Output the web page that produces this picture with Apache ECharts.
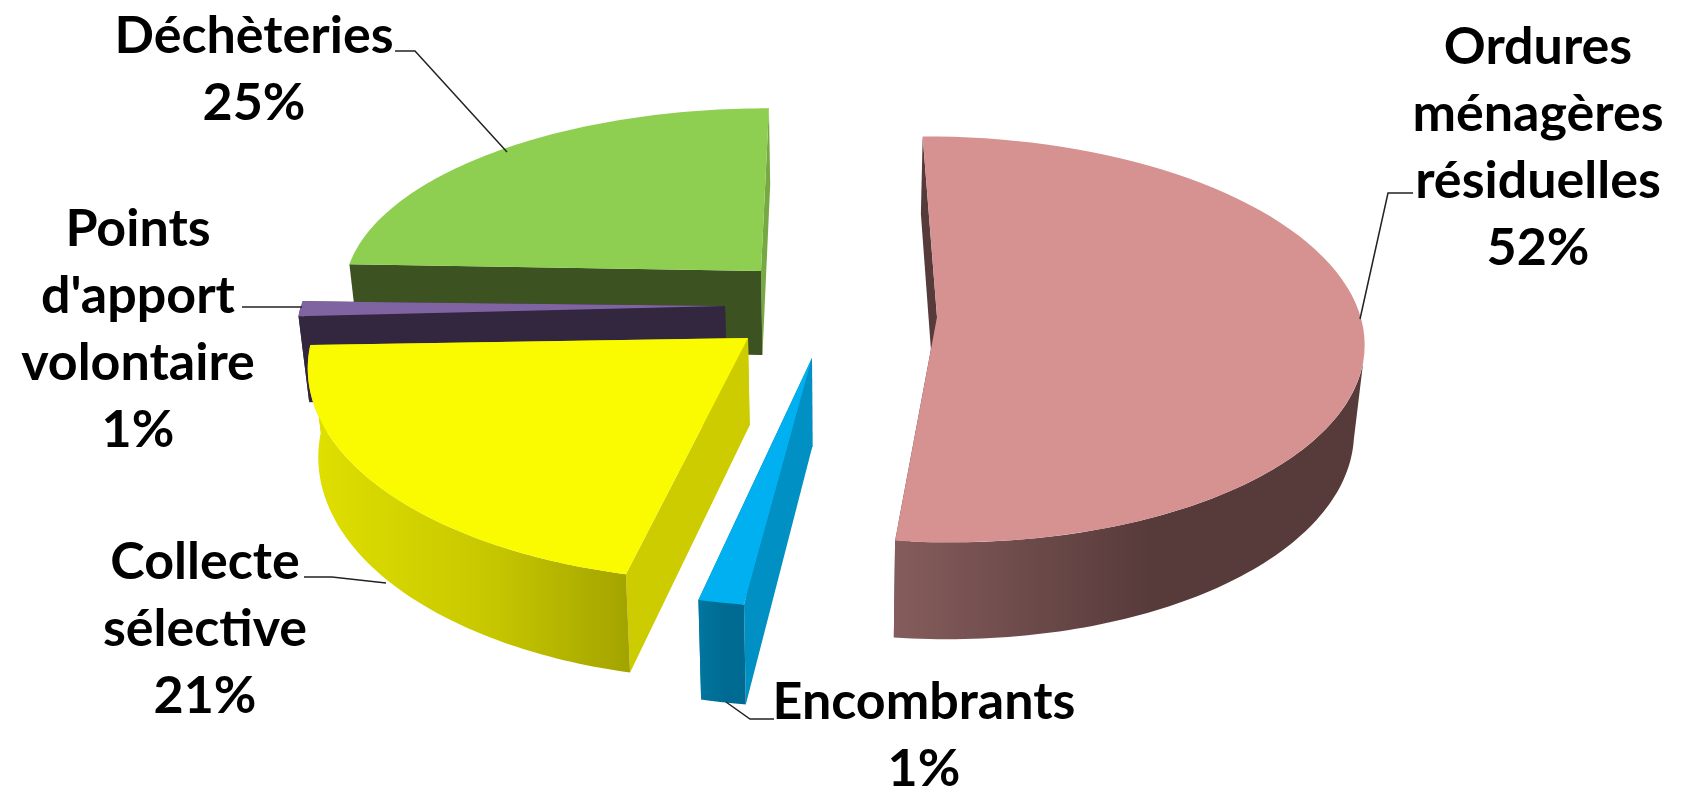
<!DOCTYPE html>
<html lang="fr">
<head>
    <meta charset="UTF-8">
    <title>Déchets</title>
    <script src="https://cdn.jsdelivr.net/npm/echarts@6/dist/echarts.min.js"></script>
    <style>
        html, body { margin: 0; padding: 0; background: #fff; }
    </style>
</head>
<body>
<div id="main" style="width:1681px;height:787px;"></div>
<script type="text/javascript">
// donnees, dans le sens horaire depuis le haut
var sliceNames = ['Ordures\nménagères\nrésiduelles', 'Encombrants', 'Collecte\nsélective', "Points\nd'apport\nvolontaire", 'Déchèteries'];
var sliceValues = [52.1, 1.49, 20.9, 1.2, 24.5];
var firstAngle = -0.6;

// perspective du camembert 3D
var vanishX = 833, vanishY = -1500, camH = 1813, camD = 3945;
var radius = 430, depth = 86, bottomShrink = 0.98;

// un style par part: sommet a l'ecran, rayons, rotation fine, couleurs des faces
var sliceLook = [
    { apex: [937, 317], rx: 0.983, ry: 1.01, turn: 0, top: '#d69290', cutA: '#573a3a', cutB: '#573a3a', side: ['#855c5c', '#573a3a', '#573a3a'], layer: 5 },
    { apex: [812, 358], rx: 1, ry: 1.058, turn: 0.9, top: '#00b0f0', cutA: '#0090c4', cutB: '#00729c', side: ['#00769f', '#006b92', '#006b92'], layer: 4 },
    { apex: [748, 338], rx: 1, ry: 1.058, turn: 1.1, top: '#fafa00', cutA: '#cccc00', cutB: '#cccc00', side: ['#e0e000', '#c8c800', '#a3a300'], layer: 3 },
    { apex: [725, 306], rx: 0.99, ry: 1, turn: 0, top: '#8064a2', cutA: '#33263f', cutB: '#33263f', side: ['#33263f', '#33263f', '#33263f'], layer: 2 },
    { apex: [761, 271], rx: 0.985, ry: 0.95, turn: 0.8, top: '#8ece50', cutA: '#3c5220', cutB: '#76a844', side: ['#3c5220', '#3c5220', '#3c5220'], layer: 1 }
];

// textes et traits de rappel
var labelSpots = [
    { x: 1538, y: 14, line: [[1413, 193], [1388, 193], [1360, 319]] },
    { x: 924, y: 669, line: [[774, 719], [750, 719], [726, 702]] },
    { x: 205, y: 529, line: [[304, 577], [332, 577], [386, 583]] },
    { x: 138, y: 196, line: [[242, 307], [302, 307]] },
    { x: 254, y: 3, line: [[395, 51], [415, 51], [507, 152]] }
];
var labelFont = 'bold 52px Lato';
var labelLine = 67;

function toScreen(X, Y, low) {
    var s = 1 / (1 - Y / camD);
    var x = vanishX + X * s;
    var y = vanishY + camH * s;
    if (low) {
        y += depth * s;
        x = vanishX + (x - vanishX) * bottomShrink;
    }
    return [x, y];
}

function groundOf(apex) {
    var s = (apex[1] - vanishY) / camH;
    return [(apex[0] - vanishX) / s, camD * (1 - 1 / s)];
}

function rimPoint(look, deg, low) {
    var g = groundOf(look.apex);
    var t = deg * Math.PI / 180;
    return toScreen(g[0] + radius * look.rx * Math.sin(t), g[1] - radius * look.ry * Math.cos(t), low);
}

function apexPoint(look, low) {
    var g = groundOf(look.apex);
    return toScreen(g[0], g[1], low);
}

function arcPoints(look, from, to, low) {
    var pts = [];
    var n = 80;
    for (var i = 0; i <= n; i++) {
        pts.push(rimPoint(look, from + (to - from) * i / n, low));
    }
    return pts;
}

function sideFill(c) {
    return {
        type: 'linear', x: 0, y: 0, x2: 1, y2: 0,
        colorStops: [{ offset: 0, color: c[0] }, { offset: 0.55, color: c[1] }, { offset: 1, color: c[2] }]
    };
}

var total = sliceValues.reduce(function (a, b) { return a + b; }, 0);

function renderSlice(params, api) {
    var i = params.dataIndex;
    var look = sliceLook[i];
    var spot = labelSpots[i];
    var before = 0;
    for (var k = 0; k < i; k++) before += sliceValues[k];
    var from = firstAngle + look.turn + before / total * 360;
    var to = from + api.value(0) / total * 360;
    var base = look.layer * 10;
    var children = [];

    // faces coupees, la face de fin d'abord
    children.push({
        type: 'polygon', z2: base,
        shape: { points: [apexPoint(look, false), rimPoint(look, to, false), rimPoint(look, to, true), apexPoint(look, true)] },
        style: { fill: look.cutB }
    });
    children.push({
        type: 'polygon', z2: base + 1,
        shape: { points: [apexPoint(look, false), rimPoint(look, from, false), rimPoint(look, from, true), apexPoint(look, true)] },
        style: { fill: look.cutA }
    });

    // bord exterieur, seulement la partie vers l'avant
    var a = Math.max(from, 100), b = Math.min(to, 270);
    if (b > a) {
        var upper = arcPoints(look, a, b, false);
        var lower = arcPoints(look, a, b, true).reverse();
        children.push({
            type: 'polygon', z2: base + 2,
            shape: { points: upper.concat(lower) },
            style: { fill: sideFill(look.side) }
        });
    }

    // dessus
    children.push({
        type: 'polygon', z2: base + 3,
        shape: { points: [apexPoint(look, false)].concat(arcPoints(look, from, to, false)) },
        style: { fill: look.top }
    });

    children.push({
        type: 'polyline', z2: 70,
        shape: { points: spot.line },
        style: { fill: null, stroke: '#222', lineWidth: 1.5 }
    });
    children.push({
        type: 'text', z2: 80,
        style: {
            x: spot.x, y: spot.y,
            text: sliceNames[i] + '\n' + Math.round(api.value(0)) + '%',
            font: labelFont, lineHeight: labelLine,
            fill: '#000', align: 'center', verticalAlign: 'top'
        }
    });
    return { type: 'group', children: children };
}

var myChart = echarts.init(document.getElementById('main'));
var option = {
    backgroundColor: '#fff',
    animation: false,
    series: [{
        type: 'custom',
        coordinateSystem: 'none',
        renderItem: renderSlice,
        data: sliceValues.map(function (v) { return [v]; })
    }]
};
myChart.setOption(option);
</script>
</body>
</html>
